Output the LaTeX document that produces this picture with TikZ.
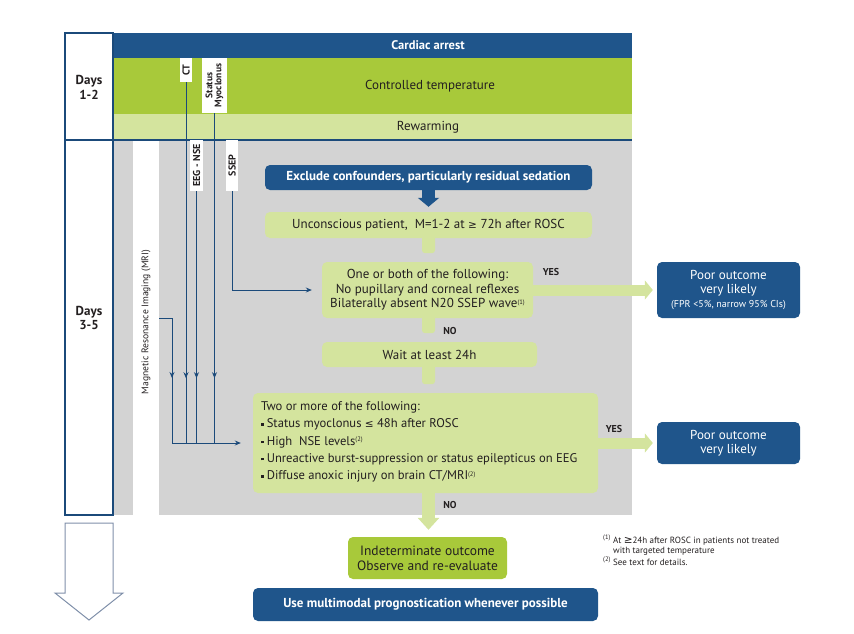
\documentclass[tikz,border=0pt]{standalone}
\usepackage{fontspec}
\setmainfont{PT Sans}
\newfontfamily\symf{DejaVu Sans}
\usetikzlibrary{arrows.meta,decorations.markings}
\definecolor{dblue}{HTML}{1F558B}
\definecolor{lineblue}{HTML}{1B4A7A}
\definecolor{mgreen}{HTML}{A8C93A}
\definecolor{lgreen}{HTML}{D4E49E}
\definecolor{greybg}{HTML}{D3D3D3}
\definecolor{textdark}{HTML}{231F20}
\definecolor{hollow}{HTML}{7F8FA9}
\newcommand{\fs}[1]{\fontsize{#1}{#1}\selectfont}
\newcommand{\sups}[1]{\raisebox{3.5pt}{\fontsize{6.5}{6.5}\selectfont(#1)}}
\newcommand{\bul}{\raisebox{2pt}{\rule{2.6pt}{2.6pt}}\hspace{3pt}}
\newcommand{\mygeq}{{\symf\fontsize{10.5}{10.5}\selectfont ≥}}
\newcommand{\myleq}{{\symf\fontsize{10.5}{10.5}\selectfont ≤}}
\begin{document}
\begin{tikzpicture}[x=1pt,y=-1pt,
  every node/.style={inner sep=0pt, text=textdark},
  bluebox/.style={fill=dblue, rounded corners=5pt, align=center, text=white},
  greenbox/.style={fill=lgreen, rounded corners=5pt, align=center, font=\fs{13}},
  lblbox/.style={fill=white, rotate=90, font=\bfseries\fs{10}, align=center},
  conn/.style={draw=lineblue, line width=0.9pt},
  midarrow/.style={postaction={decorate}, decoration={markings, mark=at position #1 with {\arrow{Stealth[length=6pt,width=5pt]}}}},
  greenarrow/.style={draw=lgreen, line width=11pt, -{Triangle[length=8pt,width=19pt]}},
  yn/.style={font=\bfseries\fs{10}}
]
\useasboundingbox (0,0) rectangle (854,633);
% background bands
\fill[dblue] (113,33) rectangle (632,58);
\fill[mgreen] (113,58) rectangle (632,114);
\fill[lgreen] (113,114) rectangle (632,140);
\fill[greybg] (113,140) rectangle (632,515);
\fill[white] (133,140) rectangle (159,515);
% frame
\draw[lineblue, line width=1.1pt] (65,33) rectangle (113,515);
\draw[lineblue, line width=1.1pt] (65,140) -- (632,140);
% band texts
\node[font=\bfseries\fs{12.5}, text=white] (cardiac) at (428,45.5) {Cardiac arrest};
\node[font=\fs{13}] (ctrl) at (430,86) {Controlled temperature};
\node[font=\fs{13}] (rew) at (428,127) {Rewarming};
\node[font=\bfseries\fs{13}, align=center] (d12) at (89,87.5) {Days\\[1.5pt]1-2};
\node[font=\bfseries\fs{13}, align=center] (d35) at (89,318) {Days\\[1.5pt]3-5};
% rotated labels
\node[lblbox, minimum width=24, minimum height=12] (ct) at (186,70) {CT};
\node[lblbox, minimum width=55, minimum height=25, font=\bfseries\fs{9.5}] (sm) at (214.5,85.5) {Status\\[-0.5pt]Myoclonus};
\node[lblbox, minimum width=51, minimum height=13] (eeg) at (196.5,165.5) {EEG - NSE};
\node[lblbox, minimum width=51, minimum height=12] (ssep) at (232,165.5) {SSEP};
\node[rotate=90, font=\fs{9.6}] (mri) at (146,322) {Magnetic Resonance Imaging (MRI)};
\coordinate (mriout) at (159,318);
% boxes
\node[bluebox, minimum width=327, minimum height=25, font=\bfseries\fs{13}] (excl) at (428.5,177.5) {Exclude confounders, particularly residual sedation};
\node[greenbox, minimum width=327, minimum height=26] (unc) at (428.5,225) {Unconscious patient,\ \ M=1-2 at \mygeq\ 72h after ROSC};
\node[greenbox, minimum width=211, minimum height=56] (one) at (427.5,290) {One or both of the following:\\[1.5pt]No pupillary and corneal reflexes\\[1.5pt]Bilaterally absent N20 SSEP wave\sups{1}};
\node[greenbox, minimum width=215, minimum height=25] (wait) at (429.5,354.5) {Wait at least 24h};
\node[greenbox, minimum width=345, minimum height=100] (two) at (425.5,443) {};
\node[anchor=west, align=left, font=\fs{12.6}] (twotext) at (261,442) {Two or more of the following:\\[4.6pt]
\bul Status myoclonus \myleq\ 48h after ROSC\\[4.6pt]
\bul High\ \ NSE levels\sups{2}\\[4.6pt]
\bul Unreactive burst-suppression or status epilepticus on EEG\\[4.6pt]
\bul Diffuse anoxic injury on brain CT/MRI\sups{2}};
\node[bluebox, minimum width=143, minimum height=56, font=\fs{13}] (poor1) at (728.5,290) {Poor outcome\\[1pt]very likely\\[1pt]{\fs{10}(FPR <5\%, narrow 95\% CIs)}};
\node[bluebox, minimum width=143, minimum height=42, font=\fs{13}] (poor2) at (728.5,443) {Poor outcome\\[1pt]very likely};
\node[fill=mgreen, rounded corners=5pt, align=center, font=\fs{13.5}, minimum width=159, minimum height=42] (indet) at (427.5,558) {Indeterminate outcome\\[1.5pt]Observe and re-evaluate};
\node[bluebox, minimum width=345, minimum height=33, font=\bfseries\fs{13}] (multi) at (425.5,604.5) {Use multimodal prognostication whenever possible};
% stubs
\fill[lgreen, rounded corners=3pt] (unc.south) ++(-6.5,-4) rectangle ++(13,19);
\fill[lgreen, rounded corners=3pt] ([xshift=1pt]one.south) ++(-6.5,-4) rectangle ++(13,19);
\fill[lgreen, rounded corners=3pt] ([xshift=-1pt]wait.south) ++(-6.5,-4) rectangle ++(13,21);
% block arrows
\draw[dblue, line width=13pt, -{Triangle[length=9pt,width=21pt]}, shorten >=5pt] (excl.south) -- (unc.north);
\draw[greenarrow, shorten >=4pt] (one.east) -- (poor1.west);
\draw[greenarrow, shorten >=4pt] (two.east) -- (poor2.west);
\draw[draw=lgreen, line width=13pt, -{Triangle[length=12pt,width=21pt]}, shorten >=7pt] ([xshift=3pt]two.south) -- ([xshift=1pt]indet.north);
% yes/no labels
\node[yn] (yes1) at (551,272) {YES};
\node[yn] (no1) at (450,331) {NO};
\node[yn] (yes2) at (614,429) {YES};
\node[yn] (no2) at (450,505) {NO};
% connectors
\draw[conn, -{Stealth[length=6pt,width=5pt]}, shorten >=10pt] (ssep.west) |- (one.west);
\draw[conn, midarrow=296pt] (ct.west) -- (ct.west |- two.west);
\draw[conn, midarrow=265pt] (sm.west) -- (sm.west |- two.west);
\draw[conn, midarrow=187pt] (eeg.west) -- (eeg.west |- two.west);
\draw[conn, midarrow=73pt, -{Stealth[length=6pt,width=5pt]}, shorten >=12pt] (mriout) -| (172,443) -- (two.west);
% hollow arrow
\draw[hollow, line width=1pt, line join=miter] (65,523) -- (113,523) -- (113,593) -- (123,593) -- (89,620) -- (55,593) -- (65,593) -- cycle;
% footnotes
\node[anchor=north west, align=left, font=\fs{9}] (foot) at (603,535) {\makebox[10pt][l]{\sups{1}}At \mygeq24h after ROSC in patients not treated\\[1pt]
\makebox[10pt][l]{}with targeted temperature\\[1pt]
\makebox[10pt][l]{\sups{2}}See text for details.};
\end{tikzpicture}
\end{document}
